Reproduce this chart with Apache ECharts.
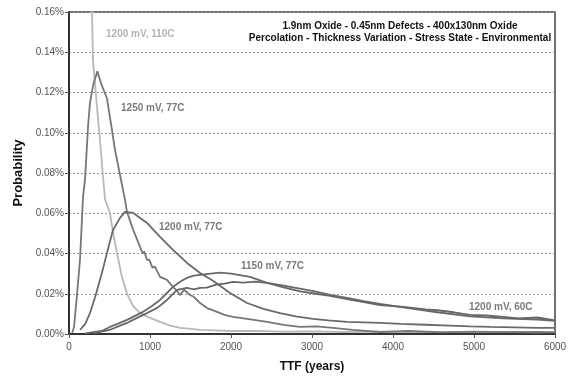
<!DOCTYPE html>
<html>
<head>
<meta charset="utf-8">
<script src="https://cdn.jsdelivr.net/npm/echarts@6/dist/echarts.min.js"></script>
<style>
html, body { margin: 0; padding: 0; background: #fff; }
#main { width: 573px; height: 381px; }
</style>
</head>
<body>
<div id="main"></div>
<script>
var dom = document.getElementById("main");
var myChart = echarts.init(dom);

// TTF in years, probability in percent
var ttf110 = [260, 284, 296, 340, 374, 410, 444, 506, 550, 593, 650, 716, 790, 877, 1000, 1124, 1250, 1371, 1500, 1618, 1800, 2000, 2300, 2600, 3000, 3400, 3800, 4200, 4600, 5000, 5400, 5800, 6000];
var prob110 = [0.19, 0.160, 0.136, 0.1155, 0.100, 0.083, 0.067, 0.060, 0.049, 0.040, 0.029, 0.020, 0.014, 0.0104, 0.008, 0.006, 0.0042, 0.003, 0.0025, 0.002, 0.0018, 0.0015, 0.0016, 0.0012, 0.0013, 0.0010, 0.0012, 0.0009, 0.0011, 0.0009, 0.0010, 0.0008, 0.0009];

var ttf1250 = [40, 62, 100, 136, 173, 198, 235, 259, 300, 350, 400, 440, 469, 520, 568, 630, 691, 716, 790, 877, 910, 930, 963, 990, 1030, 1060, 1124, 1210, 1284, 1330, 1371, 1420, 1494, 1540, 1618, 1700, 1828, 1920, 2025, 2200, 2445, 2650, 2853, 3050, 3260, 3500, 3840, 4200, 4600, 5000, 5400, 5800, 6000];
var prob1250 = [0.0005, 0.0035, 0.02, 0.037, 0.068, 0.077, 0.103, 0.115, 0.124, 0.1305, 0.124, 0.120, 0.117, 0.104, 0.0915, 0.079, 0.0667, 0.0607, 0.052, 0.0433, 0.040, 0.041, 0.0368, 0.037, 0.033, 0.0335, 0.0284, 0.0269, 0.0234, 0.0215, 0.0194, 0.022, 0.0194, 0.0185, 0.0154, 0.013, 0.011, 0.0095, 0.0085, 0.0075, 0.006, 0.0045, 0.0035, 0.0038, 0.003, 0.002, 0.001, 0.0015, 0.0008, 0.0012, 0.0009, 0.0011, 0.0008];

var ttf1200_77 = [136, 200, 259, 320, 383, 430, 469, 543, 630, 691, 790, 963, 1124, 1284, 1457, 1618, 1778, 1988, 2198, 2400, 2606, 2800, 3013, 3200, 3433, 3640, 3840, 4100, 4400, 4700, 4952, 5200, 5500, 5800, 6000];
var prob1200_77 = [0.002, 0.005, 0.0104, 0.018, 0.0269, 0.034, 0.0403, 0.0517, 0.0577, 0.0607, 0.0602, 0.0552, 0.0483, 0.0418, 0.0353, 0.0303, 0.0265, 0.0204, 0.0154, 0.0125, 0.0104, 0.0088, 0.0075, 0.0068, 0.006, 0.0058, 0.0055, 0.005, 0.0046, 0.0042, 0.0038, 0.0035, 0.0033, 0.003, 0.003];

var ttf1150 = [200, 400, 506, 600, 716, 814, 914, 1020, 1124, 1200, 1284, 1370, 1457, 1540, 1618, 1750, 1865, 2000, 2235, 2445, 2650, 2850, 3050, 3223, 3450, 3640, 3840, 4125, 4545, 4952, 5360, 5780, 6000];
var prob1150 = [0.0003, 0.0015, 0.0035, 0.005, 0.007, 0.009, 0.011, 0.0138, 0.0169, 0.020, 0.0234, 0.026, 0.0279, 0.029, 0.0294, 0.030, 0.0305, 0.030, 0.0284, 0.0254, 0.024, 0.0225, 0.021, 0.0194, 0.0178, 0.0163, 0.015, 0.0132, 0.0108, 0.0088, 0.0078, 0.0072, 0.0065];

var ttf1200_60 = [300, 500, 716, 840, 963, 1090, 1210, 1334, 1457, 1540, 1618, 1700, 1820, 1920, 2025, 2150, 2300, 2445, 2650, 2853, 3050, 3223, 3450, 3640, 3840, 4125, 4400, 4545, 4750, 4952, 5150, 5360, 5550, 5780, 6000];
var prob1200_60 = [0.0003, 0.002, 0.0055, 0.008, 0.0104, 0.013, 0.0169, 0.0219, 0.0229, 0.0222, 0.0229, 0.023, 0.0245, 0.025, 0.0259, 0.0255, 0.026, 0.0254, 0.0232, 0.0212, 0.020, 0.0189, 0.0172, 0.0158, 0.0144, 0.0135, 0.0122, 0.0118, 0.0108, 0.0095, 0.0092, 0.0085, 0.0078, 0.0082, 0.0068];

// curve labels: text, anchor (left edge, vertical middle) in data coords
var labelText = ['1200 mV, 110C', '1250 mV, 77C', '1200 mV, 77C', '1150 mV, 77C', '1200 mV, 60C'];
var labelX = [457, 642, 1111, 2124, 4938];
var labelY = [0.1488, 0.1124, 0.0532, 0.0338, 0.0134];
var labelColor = ['#b4b4b4', '#7a7a7a', '#7a7a7a', '#7a7a7a', '#7a7a7a'];

function pairs(xs, ys) {
    return xs.map(function (x, i) { return [x, ys[i]]; });
}

function curve(name, xs, ys, color) {
    return {
        name: name,
        type: 'line',
        data: pairs(xs, ys),
        showSymbol: false,
        symbol: 'none',
        clip: true,
        lineStyle: { color: color, width: 1.8 },
        animation: false
    };
}

var font = 'Arial, "Liberation Sans", sans-serif';

option = {
    backgroundColor: '#fff',
    animation: false,
    title: {
        text: '1.9nm Oxide - 0.45nm Defects - 400x130nm Oxide\nPercolation - Thickness Variation - Stress State - Environmental',
        left: 395,
        top: 15,
        textAlign: 'center',
        textStyle: { fontFamily: font, fontSize: 10, fontWeight: 'bold', color: '#111', lineHeight: 12 }
    },
    grid: {
        left: 69, right: 18, top: 12, bottom: 47,
        show: true,
        borderColor: '#444',
        borderWidth: 1.5
    },
    xAxis: {
        type: 'value',
        min: 0, max: 6000, interval: 1000,
        name: 'TTF (years)',
        nameLocation: 'middle',
        nameGap: 27,
        nameTextStyle: { fontFamily: font, fontSize: 12, fontWeight: 'bold', color: '#111' },
        axisLine: { lineStyle: { color: '#333', width: 2 } },
        axisTick: { show: true, length: 4, lineStyle: { color: '#555' } },
        axisLabel: {
            fontFamily: font, fontSize: 10, color: '#555', margin: 8,
            formatter: function (v) { return String(v); }
        },
        splitLine: { show: false }
    },
    yAxis: {
        type: 'value',
        min: 0, max: 0.16, interval: 0.02,
        name: 'Probability',
        nameLocation: 'middle',
        nameGap: 42,
        nameTextStyle: { fontFamily: font, fontSize: 13, fontWeight: 'bold', color: '#111' },
        axisLine: { show: true, lineStyle: { color: '#333', width: 2 } },
        axisTick: { show: true, length: 4, lineStyle: { color: '#555' } },
        axisLabel: {
            fontFamily: font, fontSize: 10, color: '#555', margin: 5,
            formatter: function (v) { return v.toFixed(2) + '%'; }
        },
        splitLine: { show: true, lineStyle: { color: '#999', type: [2, 2], width: 1 } }
    },
    series: [
        curve('1200 mV, 110C', ttf110, prob110, '#b8b8b8'),
        curve('1250 mV, 77C', ttf1250, prob1250, '#777'),
        curve('1200 mV, 77C', ttf1200_77, prob1200_77, '#6a6a6a'),
        curve('1150 mV, 77C', ttf1150, prob1150, '#6a6a6a'),
        curve('1200 mV, 60C', ttf1200_60, prob1200_60, '#666')
    ]
};
myChart.setOption(option);

// place the curve labels at their data positions
var graphics = labelText.map(function (t, i) {
    var p = myChart.convertToPixel({ gridIndex: 0 }, [labelX[i], labelY[i]]);
    return {
        type: 'text',
        x: p[0], y: p[1],
        style: {
            text: t,
            fill: labelColor[i],
            font: 'bold 10px ' + font,
            textVerticalAlign: 'middle'
        }
    };
});
myChart.setOption({ graphic: graphics });
</script>
</body>
</html>
